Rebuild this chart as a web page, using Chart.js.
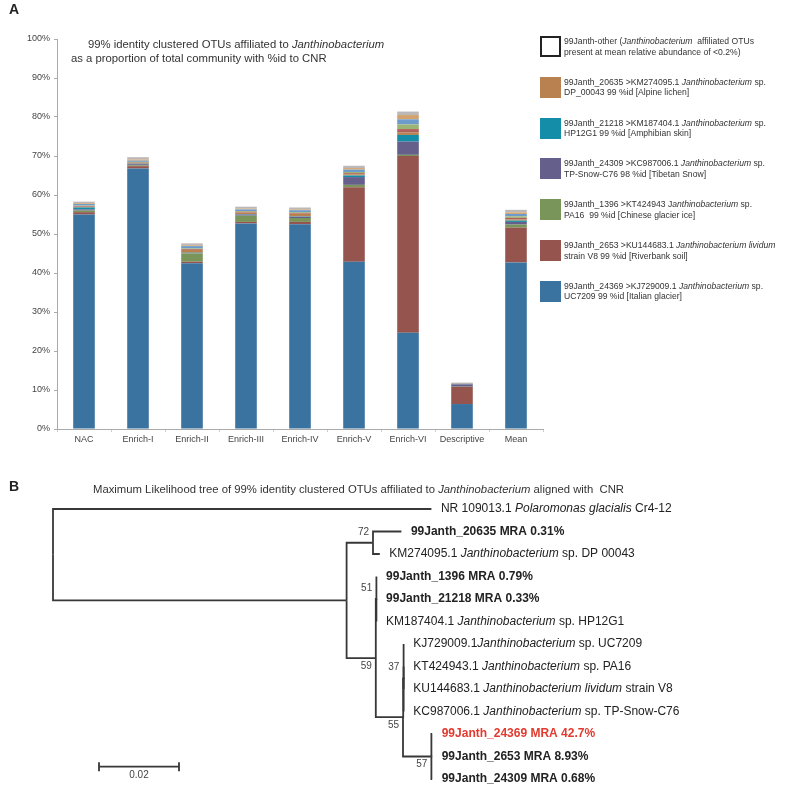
<!DOCTYPE html>
<html>
<head>
<meta charset="utf-8">
<script src="https://cdn.jsdelivr.net/npm/chart.js@4.4.1/dist/chart.umd.min.js"></script>
<style>
  body { margin: 0; background: #fff; font-family: "Liberation Sans", Arial, sans-serif; }
  #wrap { position: relative; width: 787px; height: 789px; overflow: hidden; }
  #barChart { position: absolute; left: 0; top: 0; }
  #treeChart { position: absolute; left: 0; top: 470px; }
  .panel { position: absolute; font-weight: bold; font-size: 14px; color: #222; }
  .title { position: absolute; font-size: 11.3px; color: #333; white-space: nowrap; }
  .item { position: absolute; left: 540px; width: 247px; height: 21px; }
  .sw { position: absolute; left: 0; top: 0; width: 21px; height: 21px; box-sizing: border-box; }
  .txt { position: absolute; left: 24px; top: 0; font-size: 8.6px; line-height: 10.5px; color: #333; white-space: nowrap; }
</style>
</head>
<body>
<div id="wrap">
  <canvas id="barChart" width="545" height="450"></canvas>
  <canvas id="treeChart" width="787" height="319"></canvas>
  <div class="panel" style="left:9px;top:1px;">A</div>
  <div class="panel" style="left:9px;top:478px;">B</div>
  <div class="title" style="left:88px;top:38px;">99% identity clustered OTUs affiliated to <i>Janthinobacterium</i></div>
  <div class="title" style="left:71px;top:52px;">as a proportion of total community with %id to CNR</div>
  <div class="title" style="left:93px;top:483px;">Maximum Likelihood tree of 99% identity clustered OTUs affiliated to <i>Janthinobacterium</i> aligned with&nbsp; CNR</div>
  <div id="legend"></div>
</div>
<script>
// ---- panel A data (% of total community) ----
const categories = ['NAC', 'Enrich-I', 'Enrich-II', 'Enrich-III', 'Enrich-IV', 'Enrich-V', 'Enrich-VI', 'Descriptive', 'Mean'];
const janth24369 = [55.0, 66.8, 42.5, 52.7, 52.5, 42.9, 24.7, 6.4, 42.7];
const janth2653 = [0.6, 0.6, 0.4, 0.4, 0.6, 19.1, 45.3, 4.4, 8.93];
const janth1396 = [0.4, 0.2, 2.1, 1.6, 1.0, 0.6, 0.3, 0.05, 0.79];
const janth24309 = [0.3, 0.3, 0.1, 0.3, 0.3, 2.0, 3.4, 0.6, 0.68];
const janth21218 = [0.5, 0.1, 0.1, 0.1, 0.1, 0.4, 1.7, 0.05, 0.33];
const janth20635 = [0.1, 0.1, 0.7, 0.4, 0.7, 0.3, 0.6, 0.05, 0.31];
// the many small "other" OTUs, drawn as thin stripes
const otherA = [0.2, 0.2, 0.2, 0.2, 0.2, 0.3, 0.9, 0.05, 0.4];
const otherB = [0.2, 0.2, 0.2, 0.2, 0.2, 0.3, 1.2, 0.05, 0.4];
const otherC = [0.4, 0.3, 0.6, 0.4, 0.5, 0.6, 1.3, 0.1, 0.6];
const otherD = [0.2, 0.3, 0.2, 0.2, 0.2, 0.4, 1.1, 0.05, 0.4];
const otherE = [0.4, 0.6, 0.5, 0.5, 0.5, 0.6, 0.9, 0.1, 0.66];
const yTicks = [0, 10, 20, 30, 40, 50, 60, 70, 80, 90, 100];

const legendNames = [
  '99Janth-other (<i>Janthinobacterium</i>&nbsp; affiliated OTUs<br>present at mean relative abundance of &lt;0.2%)',
  '99Janth_20635 &gt;KM274095.1 <i>Janthinobacterium</i> sp.<br>DP_00043 99 %id [Alpine lichen]',
  '99Janth_21218 &gt;KM187404.1 <i>Janthinobacterium</i> sp.<br>HP12G1 99 %id [Amphibian skin]',
  '99Janth_24309 &gt;KC987006.1 <i>Janthinobacterium</i> sp.<br>TP-Snow-C76 98 %id [Tibetan Snow]',
  '99Janth_1396 &gt;KT424943 J<i>anthinobacterium</i> sp.<br>PA16&nbsp; 99 %id [Chinese glacier ice]',
  '99Janth_2653 &gt;KU144683.1 <i>Janthinobacterium lividum</i><br>strain V8 99 %id [Riverbank soil]',
  '99Janth_24369 &gt;KJ729009.1 <i>Janthinobacterium</i> sp.<br>UC7209 99 %id [Italian glacier]'
];
const legendColors = ['#ffffff', '#b8814f', '#138da8', '#655f8c', '#79955a', '#95554e', '#3a72a0'];

// ---- panel B data (tree) ----
const treeNames = ['root', 'NR', 'nodeA', 'n72', 'J20635', 'KM274095', 'n59', 'n51', 'J1396', 'J21218', 'KM187404',
  'n55', 'n37', 'KJ729009', 'KT424943', 'KU144683', 'KC987006', 'n57', 'J24369', 'J2653', 'J24309'];
const treeParents = [-1, 0, 0, 2, 3, 3, 2, 6, 7, 7, 7, 6, 11, 12, 12, 12, 12, 11, 17, 17, 17];
const treeDepths = [0, 0.0946, 0.0734, 0.0800, 0.0871, 0.0817, 0.0807, 0.0808, 0.0809, 0.0809, 0.0809,
  0.0875, 0.0876, 0.0877, 0.0877, 0.0877, 0.0877, 0.0946, 0.0948, 0.0948, 0.0948];
// label parts: [text, style] with '' normal, 'i' italic, 'b' bold, 'r' bold red
const leafLabels = {
  NR: [['NR 109013.1 ', ''], ['Polaromonas glacialis', 'i'], [' Cr4-12', '']],
  J20635: [['99Janth_20635 MRA 0.31%', 'b']],
  KM274095: [['KM274095.1 ', ''], ['Janthinobacterium', 'i'], [' sp. DP 00043', '']],
  J1396: [['99Janth_1396 MRA 0.79%', 'b']],
  J21218: [['99Janth_21218 MRA 0.33%', 'b']],
  KM187404: [['KM187404.1 ', ''], ['Janthinobacterium', 'i'], [' sp. HP12G1', '']],
  KJ729009: [['KJ729009.1', ''], ['Janthinobacterium', 'i'], [' sp. UC7209', '']],
  KT424943: [['KT424943.1 ', ''], ['Janthinobacterium', 'i'], [' sp. PA16', '']],
  KU144683: [['KU144683.1 ', ''], ['Janthinobacterium lividum', 'i'], [' strain V8', '']],
  KC987006: [['KC987006.1 ', ''], ['Janthinobacterium', 'i'], [' sp. TP-Snow-C76', '']],
  J24369: [['99Janth_24369 MRA 42.7%', 'r']],
  J2653: [['99Janth_2653 MRA 8.93%', 'b']],
  J24309: [['99Janth_24309 MRA 0.68%', 'b']]
};
const supportNodes = ['n72', 'n51', 'n59', 'n37', 'n55', 'n57'];
const supportValues = ['72', '51', '59', '37', '55', '57'];
const supportSides = ['above', 'above', 'below', 'above', 'below', 'below'];
const scaleBarLength = 0.02;
const scaleBarStart = 0.0115;
const scaleBarRow = 11.45;

// legend
const legendBox = document.getElementById('legend');
legendNames.forEach((name, i) => {
  const item = document.createElement('div');
  item.className = 'item';
  item.style.top = (36 + i * 40.8) + 'px';
  const border = i === 0 ? 'border:2px solid #222;' : '';
  item.innerHTML = `<div class="sw" style="background:${legendColors[i]};${border}"></div><div class="txt">${name}</div>`;
  legendBox.appendChild(item);
});

// ---- bar chart ----
const stackSeries = [
  [janth24369, '#3a72a0'], [janth2653, '#95554e'], [janth1396, '#79955a'], [janth24309, '#655f8c'],
  [janth21218, '#138da8'], [janth20635, '#b8814f'],
  [otherA, '#b0605a'], [otherB, '#9cb476'], [otherC, '#6d9bcb'], [otherD, '#d2a36e'], [otherE, '#bdb8b8']
];
const axisFont = { family: '"Liberation Sans", Arial, sans-serif', size: 9 };

new Chart(document.getElementById('barChart'), {
  type: 'bar',
  data: {
    labels: categories,
    datasets: stackSeries.map(([vals, col]) => ({
      data: vals,
      backgroundColor: col,
      borderWidth: 0,
      barPercentage: 0.4,
      categoryPercentage: 1.0
    }))
  },
  options: {
    responsive: false,
    animation: false,
    events: [],
    layout: { padding: { top: 39, right: 2, left: 0, bottom: 0 } },
    plugins: { legend: { display: false }, tooltip: { enabled: false } },
    scales: {
      x: {
        stacked: true,
        border: { color: '#aaa' },
        grid: { display: true, drawOnChartArea: false, offset: true, tickLength: 3, color: '#ccc' },
        ticks: { font: axisFont, color: '#444', padding: 2 },
        afterFit(s) { s.height = 21; }
      },
      y: {
        stacked: true,
        min: 0,
        max: 100,
        border: { color: '#aaa' },
        grid: { display: true, drawOnChartArea: false, tickLength: 3, color: '#aaa' },
        afterBuildTicks(s) { s.ticks = yTicks.map(v => ({ value: v })); },
        ticks: { font: axisFont, color: '#444', padding: 4, callback: v => v + '%' },
        afterFit(s) { s.width = 57; }
      }
    }
  }
});

// ---- tree layout from parents/depths ----
const children = treeNames.map(() => []);
treeParents.forEach((p, i) => { if (p >= 0) children[p].push(i); });
const rows = new Array(treeNames.length);
let leafCount = 0;
function place(i) {
  if (children[i].length === 0) { rows[i] = leafCount++; return rows[i]; }
  const ys = children[i].map(place);
  rows[i] = (ys[0] + ys[ys.length - 1]) / 2;
  return rows[i];
}
place(0);

const branchColor = '#383838';
const treeSets = [];
treeParents.forEach((p, i) => {
  if (p < 0) return;
  treeSets.push({
    data: [{ x: treeDepths[p], y: rows[p] }, { x: treeDepths[p], y: rows[i] }, { x: treeDepths[i], y: rows[i] }]
  });
});
const barEnd = scaleBarStart + scaleBarLength;
treeSets.push({ data: [{ x: scaleBarStart, y: scaleBarRow }, { x: barEnd, y: scaleBarRow }] });
treeSets.push({ data: [{ x: scaleBarStart, y: scaleBarRow - 0.2 }, { x: scaleBarStart, y: scaleBarRow + 0.2 }] });
treeSets.push({ data: [{ x: barEnd, y: scaleBarRow - 0.2 }, { x: barEnd, y: scaleBarRow + 0.2 }] });
treeSets.forEach(d => Object.assign(d, {
  showLine: true, borderColor: branchColor, borderWidth: 1.8, pointRadius: 0,
  borderJoinStyle: 'miter', borderCapStyle: 'butt', tension: 0, clip: false
}));

const fontFam = '"Liberation Sans", Arial, sans-serif';
const treeLabels = {
  id: 'treeLabels',
  afterDatasetsDraw(chart) {
    const { ctx, scales: { x, y } } = chart;
    ctx.save();
    ctx.textBaseline = 'middle';
    treeNames.forEach((name, i) => {
      const parts = leafLabels[name];
      if (!parts) return;
      let px = x.getPixelForValue(treeDepths[i]) + 9.5;
      const py = y.getPixelForValue(rows[i]);
      parts.forEach(([text, st]) => {
        ctx.font = (st === 'i' ? 'italic ' : '') + (st === 'b' || st === 'r' ? 'bold ' : '') + '12px ' + fontFam;
        ctx.fillStyle = st === 'r' ? '#e23a2e' : '#222';
        ctx.textAlign = 'left';
        ctx.fillText(text, px, py);
        px += ctx.measureText(text).width;
      });
    });
    ctx.font = '10px ' + fontFam;
    ctx.fillStyle = '#444';
    ctx.textAlign = 'right';
    supportNodes.forEach((n, k) => {
      const i = treeNames.indexOf(n);
      const px = x.getPixelForValue(treeDepths[i]) - 4;
      const py = y.getPixelForValue(rows[i]) + (supportSides[k] === 'above' ? -11 : 8);
      ctx.fillText(supportValues[k], px, py);
    });
    ctx.textAlign = 'center';
    ctx.fillText(String(scaleBarLength), x.getPixelForValue(scaleBarStart + scaleBarLength / 2),
      y.getPixelForValue(scaleBarRow) + 9);
    ctx.restore();
  }
};

new Chart(document.getElementById('treeChart'), {
  type: 'scatter',
  data: { datasets: treeSets },
  options: {
    responsive: false,
    animation: false,
    events: [],
    layout: { padding: { left: 53, right: 7, top: 39, bottom: 10 } },
    plugins: { legend: { display: false }, tooltip: { enabled: false } },
    scales: {
      x: { display: false, min: 0, max: 0.18175 },
      y: { display: false, min: 0, max: 12, reverse: true }
    }
  },
  plugins: [treeLabels]
});
</script>
</body>
</html>
